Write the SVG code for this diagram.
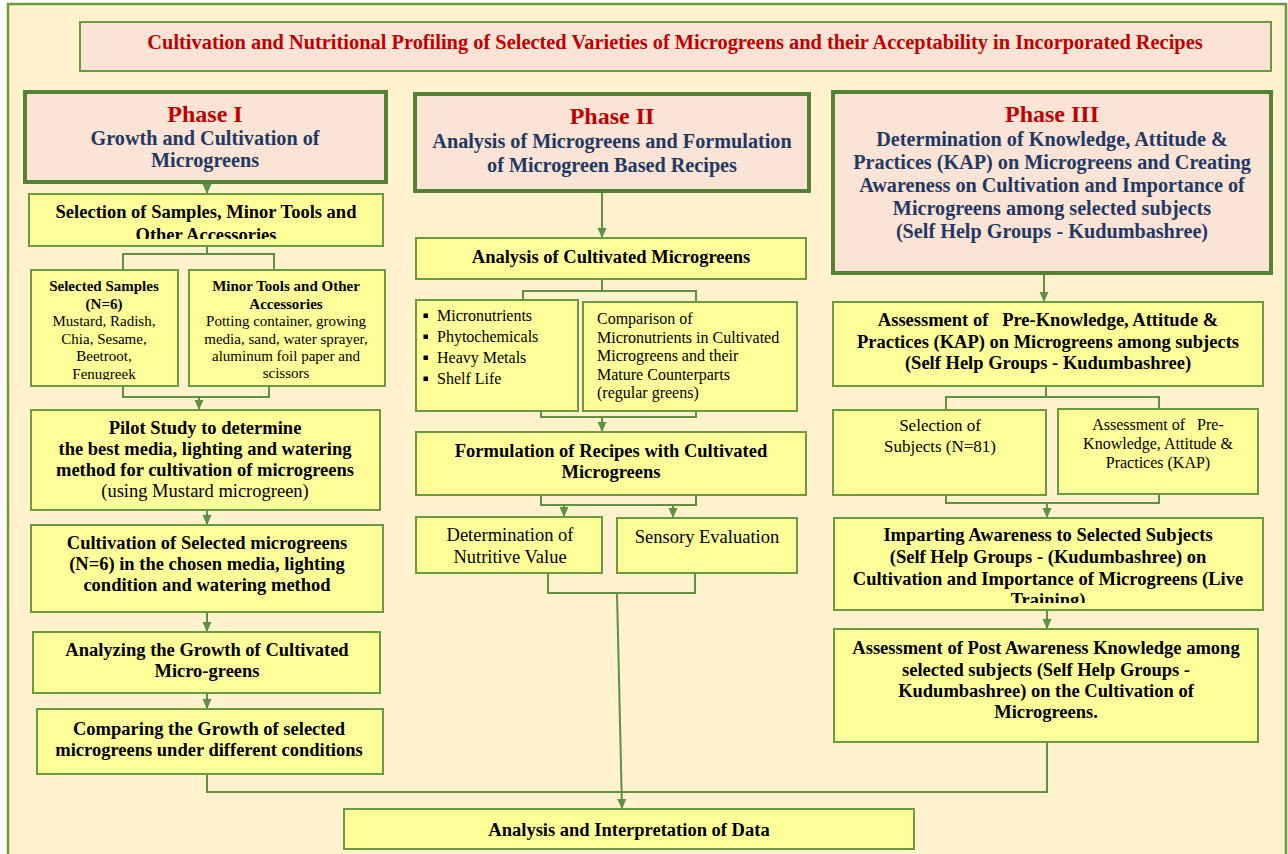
<svg xmlns="http://www.w3.org/2000/svg" width="1288" height="854" viewBox="0 0 1288 854">
<defs>
<style>
.bg{fill:#FFF2CC;stroke:#6A9B3E;stroke-width:2.5}
.box{fill:#FFFF99;stroke:#6A9B3E;stroke-width:2}
.phase{fill:#FBE4D5;stroke:#548235;stroke-width:4}
.ttl{fill:#FBE4D5;stroke:#6A9B3E;stroke-width:2}
.conn{fill:none;stroke:#5E9040;stroke-width:2}
text{font-family:"Liberation Serif","Times New Roman",serif}
.t{font-size:20.4px;font-weight:bold;fill:#C00000;text-anchor:middle}
.ph{font-size:24px;font-weight:bold;fill:#C00000;text-anchor:middle}
.sub{font-size:20.2px;font-weight:bold;fill:#1F3864;text-anchor:middle}
.b{font-size:18.5px;font-weight:bold;fill:#000;text-anchor:middle}
.r{font-size:18.5px;fill:#000;text-anchor:middle}
.sb{font-size:15px;font-weight:bold;fill:#000;text-anchor:middle}
.sr{font-size:15px;fill:#000;text-anchor:middle}
.m{font-size:16px;fill:#000}
.mr{font-size:16px;fill:#000;text-anchor:middle}
.s17{font-size:17px;fill:#000;text-anchor:middle}
</style>
<marker id="ah" markerWidth="10" markerHeight="10" refX="10" refY="5" orient="auto" markerUnits="userSpaceOnUse">
<path d="M0,0.5 L10,5 L0,9.5 z" fill="#5E9040"/>
</marker>
<clipPath id="c1"><rect x="29" y="194" width="354" height="45"/></clipPath>
<clipPath id="c2"><rect x="31" y="270" width="354" height="110"/></clipPath>
<clipPath id="c3"><rect x="834" y="518" width="429" height="85"/></clipPath>
</defs>
<rect x="0" y="0" width="1288" height="854" fill="#FFFFFF"/>
<rect class="bg" x="8" y="4" width="1278" height="880"/>

<g id="title">
<rect class="ttl" x="80" y="22" width="1191" height="49"/>
<text class="t" x="675" y="49">Cultivation and Nutritional Profiling of Selected Varieties of Microgreens and their Acceptability in Incorporated Recipes</text>
</g>

<g id="connectors">
<line class="conn" x1="207" y1="182" x2="207" y2="194" marker-end="url(#ah)"/>
<polyline class="conn" points="207,246 207,254"/>
<polyline class="conn" points="123,270 123,254 274,254 274,270"/>
<polyline class="conn" points="123,386 123,397 269,397 269,386"/>
<line class="conn" x1="199" y1="397" x2="199" y2="410" marker-end="url(#ah)"/>
<line class="conn" x1="207" y1="510" x2="207" y2="525" marker-end="url(#ah)"/>
<line class="conn" x1="207" y1="612" x2="207" y2="632" marker-end="url(#ah)"/>
<line class="conn" x1="207" y1="693" x2="207" y2="709" marker-end="url(#ah)"/>
<polyline class="conn" points="207,774 207,792 1047,792 1047,742"/>

<line class="conn" x1="602" y1="191" x2="602" y2="238" marker-end="url(#ah)"/>
<polyline class="conn" points="602,279 602,291"/>
<polyline class="conn" points="523,300 523,291 696,291 696,302"/>
<polyline class="conn" points="541,411 541,417 696,417 696,411"/>
<line class="conn" x1="602" y1="417" x2="602" y2="432" marker-end="url(#ah)"/>
<polyline class="conn" points="541,495 541,505 696,505 696,495"/>
<line class="conn" x1="564" y1="505" x2="564" y2="517" marker-end="url(#ah)"/>
<line class="conn" x1="673" y1="505" x2="673" y2="518" marker-end="url(#ah)"/>
<polyline class="conn" points="548,573 548,593 695,593 695,573"/>
<line class="conn" x1="617" y1="593" x2="622" y2="809" marker-end="url(#ah)"/>

<line class="conn" x1="1044" y1="273" x2="1044" y2="302" marker-end="url(#ah)"/>
<polyline class="conn" points="1046,386 1046,397"/>
<polyline class="conn" points="946,410 946,397 1159,397 1159,409"/>
<polyline class="conn" points="946,495 946,503 1159,503 1159,494"/>
<line class="conn" x1="1047" y1="503" x2="1047" y2="518" marker-end="url(#ah)"/>
<line class="conn" x1="1047" y1="610" x2="1047" y2="629" marker-end="url(#ah)"/>
</g>

<g id="phase1">
<rect class="phase" x="25" y="92" width="361" height="90"/>
<text class="ph" x="205" y="122">Phase I</text>
<text class="sub" x="205" y="145">Growth and Cultivation of</text>
<text class="sub" x="205" y="167">Microgreens</text>
</g>

<g id="selection">
<rect class="box" x="29" y="194" width="354" height="52"/>
<g clip-path="url(#c1)">
<text class="b" x="206" y="218">Selection of Samples, Minor Tools and</text>
<text class="b" x="206" y="241">Other Accessories</text>
</g>
</g>

<g id="samples">
<rect class="box" x="31" y="270" width="147" height="116"/>
<g clip-path="url(#c2)">
<text class="sb" x="104" y="291">Selected Samples</text>
<text class="sb" x="104" y="309">(N=6)</text>
<text class="sr" x="104" y="326">Mustard, Radish,</text>
<text class="sr" x="104" y="344">Chia, Sesame,</text>
<text class="sr" x="104" y="361">Beetroot,</text>
<text class="sr" x="104" y="379">Fenugreek</text>
</g>
</g>

<g id="tools">
<rect class="box" x="189" y="270" width="196" height="116"/>
<text class="sb" x="286" y="291">Minor Tools and Other</text>
<text class="sb" x="286" y="309">Accessories</text>
<text class="sr" x="286" y="326">Potting container, growing</text>
<text class="sr" x="286" y="344">media, sand, water sprayer,</text>
<text class="sr" x="286" y="361">aluminum foil paper and</text>
<text class="sr" x="286" y="378">scissors</text>
</g>

<g id="pilot">
<rect class="box" x="31" y="410" width="349" height="100"/>
<text class="b" x="205" y="434">Pilot Study to determine</text>
<text class="b" x="205" y="455">the best media, lighting and watering</text>
<text class="b" x="205" y="476">method for cultivation of microgreens</text>
<text class="r" x="205" y="497">(using Mustard microgreen)</text>
</g>

<g id="cultivation">
<rect class="box" x="31" y="525" width="352" height="87"/>
<text class="b" x="207" y="549">Cultivation of Selected microgreens</text>
<text class="b" x="207" y="570">(N=6) in the chosen media, lighting</text>
<text class="b" x="207" y="591">condition and watering method</text>
</g>

<g id="analyzing">
<rect class="box" x="33" y="632" width="347" height="61"/>
<text class="b" x="207" y="656">Analyzing the Growth of Cultivated</text>
<text class="b" x="207" y="677">Micro-greens</text>
</g>

<g id="comparing">
<rect class="box" x="37" y="709" width="346" height="65"/>
<text class="b" x="209" y="735">Comparing the Growth of selected</text>
<text class="b" x="209" y="756">microgreens under different conditions</text>
</g>

<g id="phase2">
<rect class="phase" x="415" y="94" width="394" height="97"/>
<text class="ph" x="612" y="124">Phase II</text>
<text class="sub" x="612" y="148">Analysis of Microgreens and Formulation</text>
<text class="sub" x="612" y="172">of Microgreen Based Recipes</text>
</g>

<g id="analysis">
<rect class="box" x="416" y="238" width="390" height="41"/>
<text class="b" x="611" y="263">Analysis of Cultivated Microgreens</text>
</g>

<g id="bullets">
<rect class="box" x="416" y="300" width="162" height="111"/>
<rect x="423.5" y="313.5" width="4.5" height="4.5" fill="#000"/>
<rect x="423.5" y="334.5" width="4.5" height="4.5" fill="#000"/>
<rect x="423.5" y="355.5" width="4.5" height="4.5" fill="#000"/>
<rect x="423.5" y="376.5" width="4.5" height="4.5" fill="#000"/>
<text class="m" x="437" y="321">Micronutrients</text>
<text class="m" x="437" y="342">Phytochemicals</text>
<text class="m" x="437" y="363">Heavy Metals</text>
<text class="m" x="437" y="384">Shelf Life</text>
</g>

<g id="comparison">
<rect class="box" x="583" y="302" width="214" height="109"/>
<text class="m" x="597" y="324">Comparison of</text>
<text class="m" x="597" y="343">Micronutrients in Cultivated</text>
<text class="m" x="597" y="361">Microgreens and their</text>
<text class="m" x="597" y="380">Mature Counterparts</text>
<text class="m" x="597" y="398">(regular greens)</text>
</g>

<g id="formulation">
<rect class="box" x="416" y="432" width="390" height="63"/>
<text class="b" x="611" y="457">Formulation of Recipes with Cultivated</text>
<text class="b" x="611" y="478">Microgreens</text>
</g>

<g id="nutritive">
<rect class="box" x="416" y="517" width="186" height="56"/>
<text class="r" x="510" y="541">Determination of</text>
<text class="r" x="510" y="563">Nutritive Value</text>
</g>

<g id="sensory">
<rect class="box" x="617" y="518" width="180" height="55"/>
<text class="r" x="707" y="543">Sensory Evaluation</text>
</g>

<g id="phase3">
<rect class="phase" x="833" y="92" width="438" height="181"/>
<text class="ph" x="1052" y="122">Phase III</text>
<text class="sub" x="1052" y="146">Determination of Knowledge, Attitude &amp;</text>
<text class="sub" x="1052" y="169">Practices (KAP) on Microgreens and Creating</text>
<text class="sub" x="1052" y="192">Awareness on Cultivation and Importance of</text>
<text class="sub" x="1052" y="215">Microgreens among selected subjects</text>
<text class="sub" x="1052" y="238">(Self Help Groups - Kudumbashree)</text>
</g>

<g id="assessment">
<rect class="box" x="833" y="302" width="430" height="84"/>
<text class="b" x="1048" y="326" xml:space="preserve">Assessment of   Pre-Knowledge, Attitude &amp;</text>
<text class="b" x="1048" y="348">Practices (KAP) on Microgreens among subjects</text>
<text class="b" x="1048" y="369">(Self Help Groups - Kudumbashree)</text>
</g>

<g id="subjects">
<rect class="box" x="833" y="410" width="213" height="85"/>
<text class="s17" x="940" y="431">Selection of</text>
<text class="s17" x="940" y="452">Subjects (N=81)</text>
</g>

<g id="kap">
<rect class="box" x="1058" y="409" width="200" height="85"/>
<text class="mr" x="1158" y="430" xml:space="preserve">Assessment of   Pre-</text>
<text class="mr" x="1158" y="449">Knowledge, Attitude &amp;</text>
<text class="mr" x="1158" y="468">Practices (KAP)</text>
</g>

<g id="imparting">
<rect class="box" x="834" y="518" width="429" height="92"/>
<g clip-path="url(#c3)">
<text class="b" x="1048" y="541">Imparting Awareness to Selected Subjects</text>
<text class="b" x="1048" y="563">(Self Help Groups - (Kudumbashree) on</text>
<text class="b" x="1048" y="585">Cultivation and Importance of Microgreens (Live</text>
<text class="b" x="1048" y="606">Training)</text>
</g>
</g>

<g id="post">
<rect class="box" x="834" y="629" width="424" height="113"/>
<text class="b" x="1046" y="654">Assessment of Post Awareness Knowledge among</text>
<text class="b" x="1046" y="676">selected subjects (Self Help Groups -</text>
<text class="b" x="1046" y="697">Kudumbashree) on the Cultivation of</text>
<text class="b" x="1046" y="718">Microgreens.</text>
</g>

<g id="data">
<rect class="box" x="344" y="809" width="570" height="40"/>
<text class="b" x="629" y="836">Analysis and Interpretation of Data</text>
</g>
</svg>
